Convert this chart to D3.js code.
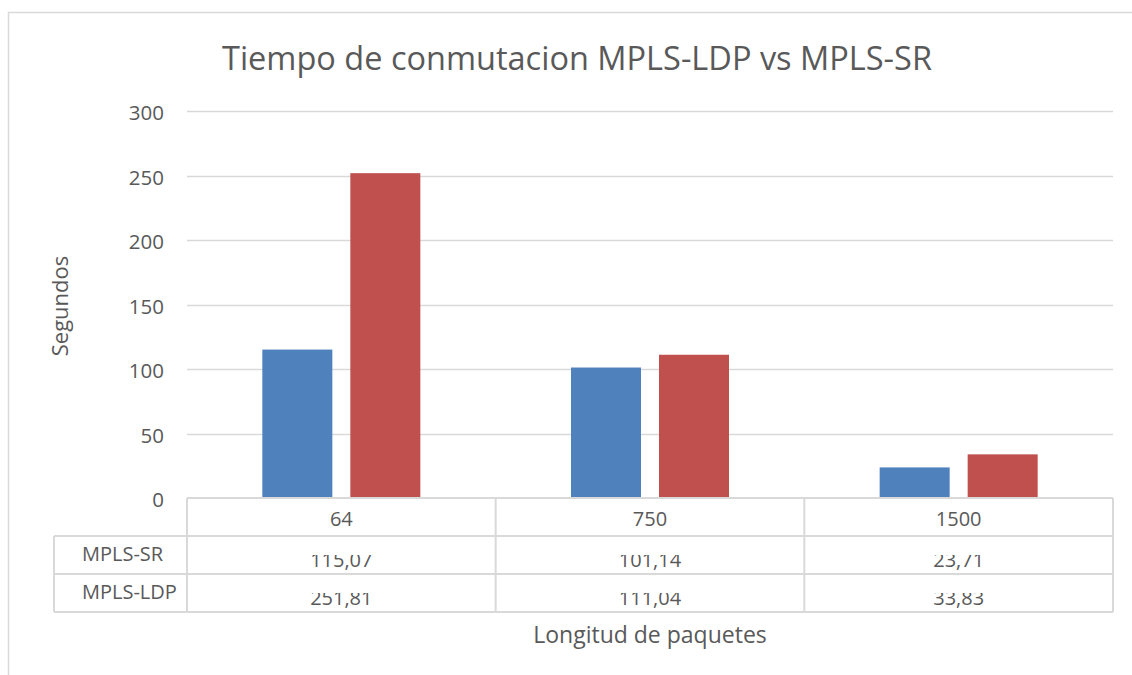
<!DOCTYPE html>
<html lang="es">
<head>
<meta charset="UTF-8">
<title>Tiempo de conmutacion</title>
<script src="https://d3js.org/d3.v7.min.js"></script>
<style>
    body { margin: 0; background: #fff; }
    text { font-family: "Open Sans", sans-serif; fill: #595959; }
</style>
</head>
<body>
<svg id="chart"></svg>
<script>
    // Data
    const categories = ["64", "750", "1500"];
    const seriesNames = ["MPLS-SR", "MPLS-LDP"];
    const srValues = [115.07, 101.14, 23.71];
    const ldpValues = [251.81, 111.04, 33.83];
    const yTicks = [0, 50, 100, 150, 200, 250, 300];
    const colors = ["#4F81BD", "#C0504D"];

    const W = 1132, H = 675;
    const plot = { left: 187, right: 1113, top: 111, bottom: 498 };
    const rowH = 38;

    const svg = d3.select("#chart").attr("width", W).attr("height", H);

    // outer chart border
    svg.append("rect")
        .attr("x", 8.5).attr("y", 12.5)
        .attr("width", 1140).attr("height", 700)
        .attr("fill", "none").attr("stroke", "#D9D9D9").attr("stroke-width", 1.5);

    const x = d3.scaleBand().domain(categories).range([plot.left, plot.right]);
    const y = d3.scaleLinear().domain([0, 300]).range([plot.bottom, plot.top]);

    // inner band for the two series, bars 70px wide with 18px gap
    const clusterW = 158;
    const xs = d3.scaleBand().domain(seriesNames)
        .range([(x.bandwidth() - clusterW) / 2, (x.bandwidth() + clusterW) / 2])
        .paddingInner(0.2045);

    // gridlines
    svg.append("g")
        .selectAll("line")
        .data(yTicks.slice(1))
        .join("line")
        .attr("x1", plot.left).attr("x2", plot.right)
        .attr("y1", d => Math.round(y(d)) + 0.5).attr("y2", d => Math.round(y(d)) + 0.5)
        .attr("stroke", "#D9D9D9").attr("stroke-width", 1.5);

    // y axis labels
    const yAxis = svg.append("g")
        .attr("transform", "translate(" + (plot.left - 23) + ",0)")
        .call(d3.axisLeft(y).tickValues(yTicks).tickSize(0).tickPadding(0));
    yAxis.select(".domain").remove();
    yAxis.selectAll("text")
        .attr("font-family", "Open Sans").attr("font-size", 20.5).attr("fill", "#595959")
        .attr("dy", 8.5);

    // bars
    const series = seriesNames.map((name, i) => ({
        name: name,
        values: [srValues, ldpValues][i],
        color: colors[i]
    }));

    svg.append("g")
        .selectAll("g")
        .data(series)
        .join("g")
        .attr("fill", d => d.color)
        .selectAll("rect")
        .data(d => d.values.map((v, j) => ({ name: d.name, cat: categories[j], value: v })))
        .join("rect")
        .attr("x", d => x(d.cat) + xs(d.name))
        .attr("y", d => y(d.value))
        .attr("width", xs.bandwidth())
        .attr("height", d => y(0) - y(d.value));

    // data table
    const table = svg.append("g");
    const tableBottom = plot.bottom + rowH * 3;
    const legendLeft = 54;
    const lineStyle = sel => sel.attr("stroke", "#D9D9D9").attr("stroke-width", 2).attr("fill", "none");

    // horizontal lines
    table.append("line").attr("x1", plot.left).attr("x2", plot.right)
        .attr("y1", plot.bottom).attr("y2", plot.bottom).call(lineStyle);
    [1, 2, 3].forEach(r => {
        table.append("line").attr("x1", legendLeft).attr("x2", plot.right)
            .attr("y1", plot.bottom + rowH * r).attr("y2", plot.bottom + rowH * r).call(lineStyle);
    });
    // vertical lines
    categories.forEach(c => {
        table.append("line").attr("x1", x(c)).attr("x2", x(c))
            .attr("y1", plot.bottom).attr("y2", tableBottom).call(lineStyle);
    });
    table.append("line").attr("x1", plot.right).attr("x2", plot.right)
        .attr("y1", plot.bottom).attr("y2", tableBottom).call(lineStyle);
    table.append("line").attr("x1", legendLeft).attr("x2", legendLeft)
        .attr("y1", plot.bottom + rowH).attr("y2", tableBottom).call(lineStyle);

    // header row: categories
    table.selectAll(".cat")
        .data(categories)
        .join("text")
        .attr("class", "cat")
        .attr("x", d => x(d) + x.bandwidth() / 2)
        .attr("y", plot.bottom + 28)
        .attr("text-anchor", "middle")
        .attr("font-size", 20)
        .text(d => d);

    // series rows
    const fmt = v => v.toFixed(2).replace(".", ",");
    const defs = svg.append("defs");
    series.forEach((s, i) => {
        const rowTop = plot.bottom + rowH * (i + 1);
        table.append("text")
            .attr("x", 82)
            .attr("y", rowTop + 25)
            .attr("font-size", 20)
            .text(s.name);

        // values sit low in the cell and their tops are cut off
        const clipId = "row-clip-" + i;
        defs.append("clipPath").attr("id", clipId)
            .append("rect")
            .attr("x", plot.left).attr("y", rowTop + 19)
            .attr("width", plot.right - plot.left).attr("height", rowH);
        table.append("g")
            .attr("clip-path", "url(#" + clipId + ")")
            .selectAll("text")
            .data(s.values)
            .join("text")
            .attr("x", (d, j) => x(categories[j]) + x.bandwidth() / 2)
            .attr("y", rowTop + 31)
            .attr("text-anchor", "middle")
            .attr("font-size", 20)
            .text(d => fmt(d));
    });

    // title
    svg.append("text")
        .attr("x", 577).attr("y", 70)
        .attr("text-anchor", "middle")
        .attr("font-size", 32.5)
        .text("Tiempo de conmutacion MPLS-LDP vs MPLS-SR");

    // axis titles
    svg.append("text")
        .attr("transform", "translate(68,306) rotate(-90)")
        .attr("text-anchor", "middle")
        .attr("font-size", 22)
        .text("Segundos");

    svg.append("text")
        .attr("x", (plot.left + plot.right) / 2)
        .attr("y", 643)
        .attr("text-anchor", "middle")
        .attr("font-size", 23)
        .text("Longitud de paquetes");
</script>
</body>
</html>
